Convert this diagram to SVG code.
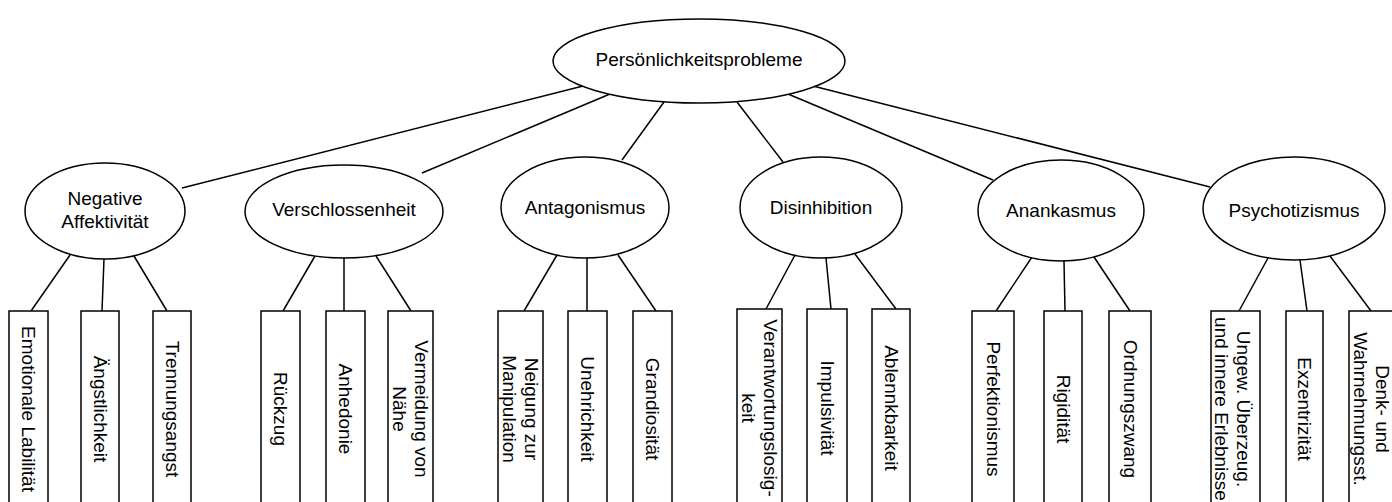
<svg xmlns="http://www.w3.org/2000/svg" width="1392" height="502" viewBox="0 0 1392 502">
<style>
.n{fill:#fff;stroke:#000;stroke-width:1.5}
.c line{stroke:#000;stroke-width:1.5}
text{font-family:"Liberation Sans",Arial,sans-serif;font-size:19px;fill:#000;text-anchor:middle;dominant-baseline:central}
</style>
<rect width="1392" height="502" fill="#fff"/>
<g id="connectors" class="c">
<line x1="583" y1="86" x2="182" y2="188"/>
<line x1="610" y1="94" x2="422" y2="173"/>
<line x1="664" y1="102" x2="622" y2="160"/>
<line x1="737" y1="102" x2="783" y2="162"/>
<line x1="788" y1="94" x2="993" y2="180"/>
<line x1="813" y1="86" x2="1210" y2="187"/>
<line x1="70" y1="255" x2="31" y2="311"/>
<line x1="104" y1="259" x2="102" y2="311"/>
<line x1="134" y1="256" x2="167" y2="311"/>
<line x1="315" y1="256" x2="283" y2="311"/>
<line x1="344" y1="258" x2="344" y2="311"/>
<line x1="376" y1="256" x2="411" y2="311"/>
<line x1="557" y1="255" x2="524" y2="311"/>
<line x1="587" y1="258" x2="587" y2="311"/>
<line x1="618" y1="255" x2="656" y2="311"/>
<line x1="795" y1="255" x2="766" y2="309"/>
<line x1="826" y1="258" x2="831" y2="309"/>
<line x1="855" y1="254" x2="896" y2="309"/>
<line x1="1032" y1="257" x2="996" y2="311"/>
<line x1="1064" y1="261" x2="1065" y2="311"/>
<line x1="1094" y1="257" x2="1130" y2="311"/>
<line x1="1268" y1="258" x2="1239" y2="311"/>
<line x1="1300" y1="260" x2="1307" y2="311"/>
<line x1="1330" y1="256" x2="1371" y2="311"/>
</g>
<g id="root"><ellipse class="n" cx="699" cy="61" rx="146" ry="42"/><text x="699" y="59">Persönlichkeitsprobleme</text></g>
<g id="negative"><ellipse class="n" cx="105" cy="211" rx="80" ry="48"/><text x="105" y="198">Negative</text><text x="105" y="221">Affektivität</text></g>
<g id="verschlossenheit"><ellipse class="n" cx="344" cy="211.5" rx="99" ry="46.5"/><text x="344" y="209">Verschlossenheit</text></g>
<g id="antagonismus"><ellipse class="n" cx="585" cy="207.5" rx="84" ry="50.5"/><text x="585" y="207">Antagonismus</text></g>
<g id="disinhibition"><ellipse class="n" cx="821" cy="207.5" rx="81" ry="50.5"/><text x="821" y="207">Disinhibition</text></g>
<g id="anankasmus"><ellipse class="n" cx="1061" cy="210.5" rx="83" ry="50.5"/><text x="1061" y="210">Anankasmus</text></g>
<g id="psychotizismus"><ellipse class="n" cx="1294" cy="208.5" rx="91" ry="51.5"/><text x="1294" y="210">Psychotizismus</text></g>
<g id="emotionale"><rect class="n" x="9" y="311" width="39" height="198"/><text transform="translate(28.5,409) rotate(90)">Emotionale Labilität</text></g>
<g id="aengstlichkeit"><rect class="n" x="81" y="311" width="38" height="198"/><text transform="translate(100,409) rotate(90)">Ängstlichkeit</text></g>
<g id="trennungsangst"><rect class="n" x="153" y="311" width="38" height="198"/><text transform="translate(172,409) rotate(90)">Trennungsangst</text></g>
<g id="rueckzug"><rect class="n" x="261" y="311" width="39" height="198"/><text transform="translate(280.5,409) rotate(90)">Rückzug</text></g>
<g id="anhedonie"><rect class="n" x="326" y="311" width="39" height="198"/><text transform="translate(345.5,409) rotate(90)">Anhedonie</text></g>
<g id="vermeidung"><rect class="n" x="388" y="311" width="45" height="198"/><text transform="translate(410.5,409) rotate(90)"><tspan x="0" y="-11">Vermeidung von</tspan><tspan x="0" y="11">Nähe</tspan></text></g>
<g id="neigung"><rect class="n" x="498" y="311" width="45" height="198"/><text transform="translate(520.5,409) rotate(90)"><tspan x="0" y="-11">Neigung zur</tspan><tspan x="0" y="11">Manipulation</tspan></text></g>
<g id="unehrichkeit"><rect class="n" x="568" y="311" width="39" height="198"/><text transform="translate(587.5,409) rotate(90)">Unehrichkeit</text></g>
<g id="grandiositaet"><rect class="n" x="633" y="311" width="39" height="198"/><text transform="translate(652.5,409) rotate(90)">Grandiosität</text></g>
<g id="verantwortung"><rect class="n" x="737" y="309" width="45" height="198"/><text transform="translate(759.5,408) rotate(90)"><tspan x="0" y="-11">Verantwortungslosig-</tspan><tspan x="0" y="11">keit</tspan></text></g>
<g id="impulsivitaet"><rect class="n" x="807" y="309" width="40" height="198"/><text transform="translate(827,408) rotate(90)">Impulsivität</text></g>
<g id="ablenkbarkeit"><rect class="n" x="872" y="309" width="38" height="198"/><text transform="translate(891,408) rotate(90)">Ablennkbarkeit</text></g>
<g id="perfektionismus"><rect class="n" x="972" y="311" width="42" height="198"/><text transform="translate(993,409) rotate(90)">Perfektionismus</text></g>
<g id="rigiditaet"><rect class="n" x="1044" y="311" width="38" height="198"/><text transform="translate(1063,409) rotate(90)">Rigidität</text></g>
<g id="ordnungszwang"><rect class="n" x="1109" y="311" width="42" height="198"/><text transform="translate(1130,409) rotate(90)">Ordnungszwang</text></g>
<g id="ungewoehnlich"><rect class="n" x="1211" y="311" width="49" height="198"/><text transform="translate(1233,409) rotate(90)"><tspan x="0" y="-11">Ungew. Überzeug.</tspan><tspan x="0" y="11">und innere Erlebnisse</tspan></text></g>
<g id="exzentrizitaet"><rect class="n" x="1286" y="311" width="37" height="198"/><text transform="translate(1304.5,409) rotate(90)">Exzentrizität</text></g>
<g id="denk"><rect class="n" x="1349" y="311" width="45" height="198"/><text transform="translate(1371.5,409) rotate(90)"><tspan x="0" y="-11">Denk- und</tspan><tspan x="0" y="11">Wahrnehmungsst.</tspan></text></g>
</svg>
